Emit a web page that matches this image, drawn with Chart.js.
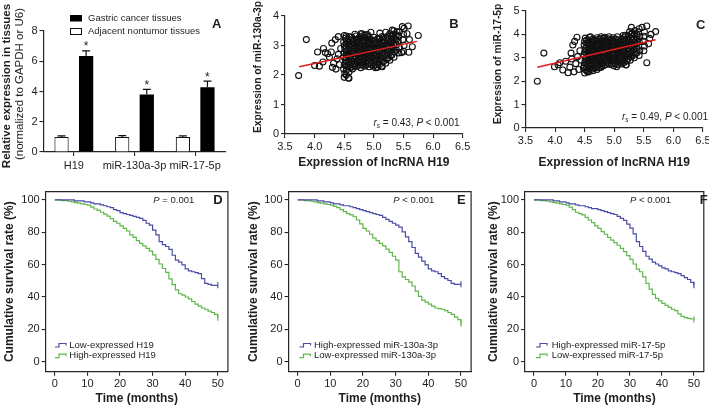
<!DOCTYPE html>
<html><head><meta charset="utf-8">
<script src="https://cdn.jsdelivr.net/npm/chart.js@4/dist/chart.umd.min.js"></script>
<style>
html,body{margin:0;padding:0;background:#fff;width:709px;height:407px;overflow:hidden;}
body{position:relative;}
canvas{position:absolute;}
</style></head><body>
<canvas id="cA" width="240" height="190" style="left:0px;top:0px"></canvas>
<canvas id="cB" width="240" height="190" style="left:240px;top:0px"></canvas>
<canvas id="cC" width="229" height="190" style="left:480px;top:0px"></canvas>
<canvas id="cD" width="240" height="222" style="left:0px;top:185px"></canvas>
<canvas id="cE" width="240" height="222" style="left:240px;top:185px"></canvas>
<canvas id="cF" width="231" height="222" style="left:478px;top:185px"></canvas>
<script>
// ---------------- DATA ----------------
const barCategories = ['H19', 'miR-130a-3p', 'miR-17-5p'];
const cancerMeans = [6.35, 3.8, 4.28];
const cancerErr = [0.33, 0.34, 0.4];
const normalMeans = [1.0, 1.0, 1.0];
const normalErr = [0.07, 0.08, 0.07];
const barSeriesNames = ['Gastric cancer tissues', 'Adjacent nontumor tissues'];
const barTicksY = [0, 2, 4, 6, 8];

const scatterB = [
[3.73,1.98],[3.86,3.2],[4.0,2.32],[4.05,2.78],[4.08,2.3],[4.14,2.44],[4.15,2.9],[4.18,2.76],[4.22,2.72],[4.25,2.6],[4.28,2.78],[4.29,3.08],[4.3,2.26],[4.32,2.4],[4.35,3.2],[4.36,2.2],[4.38,2.55],[4.4,3.3],[4.4,2.7],[4.42,2.35],[4.44,2.9],
[4.5,1.92],[4.51,2.05],[4.49,2.2],[4.5,2.35],[4.52,2.5],[4.49,2.62],[4.5,2.75],[4.51,2.88],[4.5,3.0],[4.49,3.12],[4.52,3.25],[4.5,3.34],
[4.57,1.9],[4.58,2.1],[4.56,2.28],[4.57,2.42],[4.58,2.56],[4.56,2.7],[4.57,2.84],[4.58,2.97],[4.56,3.1],[4.57,3.22],[4.58,3.3],
[4.64,2.2],[4.65,2.35],[4.63,2.48],[4.64,2.6],[4.65,2.74],[4.63,2.88],[4.64,3.0],[4.65,3.14],[4.63,3.28],
[4.71,2.3],[4.72,2.45],[4.7,2.58],[4.71,2.7],[4.72,2.82],[4.7,2.95],[4.71,3.08],[4.72,3.2],[4.7,3.32],
[4.78,2.25],[4.79,2.4],[4.77,2.52],[4.78,2.66],[4.79,2.8],[4.77,2.92],[4.78,3.04],[4.79,3.18],[4.77,3.3],[4.78,3.4],
[4.85,2.3],[4.86,2.44],[4.84,2.58],[4.85,2.72],[4.86,2.86],[4.84,3.0],[4.85,3.12],[4.86,3.26],[4.84,3.36],
[4.92,2.28],[4.93,2.42],[4.91,2.56],[4.92,2.7],[4.93,2.84],[4.91,2.96],[4.92,3.1],[4.93,3.22],[4.91,3.32],
[4.99,2.3],[5.0,2.44],[4.98,2.58],[4.99,2.72],[5.0,2.86],[4.98,3.0],[4.99,3.14],[5.0,3.28],
[5.06,2.26],[5.07,2.4],[5.05,2.54],[5.06,2.68],[5.07,2.82],[5.05,2.96],[5.06,3.1],[5.07,3.24],
[5.13,2.3],[5.14,2.46],[5.12,2.6],[5.13,2.74],[5.14,2.88],[5.12,3.02],[5.13,3.16],[5.14,3.3],
[5.2,2.4],[5.21,2.55],[5.19,2.7],[5.2,2.84],[5.21,2.98],[5.19,3.12],[5.2,3.26],
[5.27,2.5],[5.28,2.66],[5.26,2.8],[5.27,2.95],[5.28,3.1],[5.26,3.25],[5.27,3.4],
[5.34,2.6],[5.35,2.78],[5.33,2.92],[5.34,3.08],[5.35,3.22],[5.33,3.38],[5.34,3.5],
[5.42,2.75],[5.43,2.95],[5.41,3.15],[5.42,3.3],[5.43,3.46],
[5.5,2.8],[5.51,3.0],[5.49,3.2],[5.5,3.38],[5.51,3.58],
[5.48,3.64],[5.58,3.66],[5.75,3.34],[5.65,2.96],[5.59,2.77],[5.47,2.76],[5.39,3.47],[5.31,3.52],[5.14,2.28],[5.03,2.25],[4.58,1.89],[4.8,3.4],[4.89,3.37],[4.53,3.32],[5.56,3.4],[5.6,3.2],[5.2,3.45],[5.1,3.42],[4.95,3.45],[4.68,3.38],
[4.535,2.0],[4.535,2.16],[4.535,2.3],[4.535,2.45],[4.535,2.58],[4.535,2.7],[4.535,2.82],[4.535,2.94],[4.535,3.06],[4.535,3.18],
[4.605,2.25],[4.605,2.38],[4.605,2.52],[4.605,2.64],[4.605,2.78],[4.605,2.92],[4.605,3.04],[4.605,3.18],
[4.675,2.28],[4.675,2.4],[4.675,2.54],[4.675,2.66],[4.675,2.8],[4.675,2.92],[4.675,3.05],[4.675,3.2],
[4.745,2.34],[4.745,2.48],[4.745,2.6],[4.745,2.74],[4.745,2.86],[4.745,2.98],[4.745,3.12],[4.745,3.25],
[4.815,2.32],[4.815,2.46],[4.815,2.6],[4.815,2.74],[4.815,2.88],[4.815,3.0],[4.815,3.14],[4.815,3.28],
[4.885,2.36],[4.885,2.5],[4.885,2.64],[4.885,2.78],[4.885,2.92],[4.885,3.06],[4.885,3.2],
[4.955,2.36],[4.955,2.5],[4.955,2.64],[4.955,2.78],[4.955,2.92],[4.955,3.06],[4.955,3.2],
[5.025,2.34],[5.025,2.48],[5.025,2.62],[5.025,2.76],[5.025,2.9],[5.025,3.04],[5.025,3.18],
[5.095,2.36],[5.095,2.52],[5.095,2.66],[5.095,2.8],[5.095,2.94],[5.095,3.08],[5.095,3.22],
[5.165,2.46],[5.165,2.62],[5.165,2.78],[5.165,2.92],[5.165,3.06],[5.165,3.2],
[5.235,2.56],[5.235,2.72],[5.235,2.88],[5.235,3.02],[5.235,3.18],[5.235,3.32],
[5.305,2.68],[5.305,2.86],[5.305,3.0],[5.305,3.16],[5.305,3.3],
[5.38,2.85],[5.38,3.02],[5.38,3.2],[5.38,3.36]
];
const fitB = [[3.74, 2.28], [5.73, 3.14]];

const scatterC = [
[3.7,2.0],[3.81,3.2],[3.99,2.62],[4.05,2.7],[4.08,2.79],[4.13,2.48],[4.18,2.85],[4.22,2.36],[4.25,2.6],[4.27,3.2],[4.28,2.95],[4.3,3.55],[4.32,2.4],[4.33,3.7],[4.35,2.75],[4.37,3.88],[4.38,3.05],[4.4,2.5],[4.42,3.3],[4.44,2.9],
[4.5,2.35],[4.51,2.5],[4.49,2.65],[4.5,2.8],[4.51,2.95],[4.49,3.1],[4.5,3.25],[4.51,3.4],[4.49,3.55],[4.5,3.7],[4.51,3.84],
[4.57,2.4],[4.58,2.55],[4.56,2.7],[4.57,2.86],[4.58,3.0],[4.56,3.16],[4.57,3.3],[4.58,3.46],[4.56,3.6],[4.57,3.76],[4.58,3.88],
[4.64,2.45],[4.65,2.6],[4.63,2.76],[4.64,2.92],[4.65,3.06],[4.63,3.22],[4.64,3.36],[4.65,3.52],[4.63,3.66],[4.64,3.8],
[4.71,2.5],[4.72,2.66],[4.7,2.82],[4.71,2.96],[4.72,3.12],[4.7,3.28],[4.71,3.42],[4.72,3.56],[4.7,3.72],[4.71,3.86],
[4.78,2.6],[4.79,2.74],[4.77,2.9],[4.78,3.04],[4.79,3.2],[4.77,3.34],[4.78,3.5],[4.79,3.64],[4.77,3.8],[4.78,3.9],
[4.85,2.7],[4.86,2.84],[4.84,3.0],[4.85,3.14],[4.86,3.3],[4.84,3.44],[4.85,3.6],[4.86,3.74],[4.84,3.88],
[4.92,2.72],[4.93,2.88],[4.91,3.02],[4.92,3.18],[4.93,3.32],[4.91,3.48],[4.92,3.62],[4.93,3.76],[4.91,3.9],
[4.99,2.66],[5.0,2.8],[4.98,2.96],[4.99,3.1],[5.0,3.26],[4.98,3.4],[4.99,3.56],[5.0,3.7],[4.98,3.86],
[5.06,2.7],[5.07,2.86],[5.05,3.0],[5.06,3.16],[5.07,3.3],[5.05,3.46],[5.06,3.6],[5.07,3.76],
[5.13,2.74],[5.14,2.9],[5.12,3.06],[5.13,3.2],[5.14,3.36],[5.12,3.5],[5.13,3.66],[5.14,3.8],
[5.2,2.7],[5.21,2.86],[5.19,3.0],[5.2,3.16],[5.21,3.32],[5.19,3.48],[5.2,3.62],[5.21,3.78],[5.19,3.96],
[5.27,2.9],[5.28,3.06],[5.26,3.2],[5.27,3.36],[5.28,3.52],[5.26,3.68],[5.27,3.84],[5.28,4.0],[5.26,4.12],
[5.34,3.0],[5.35,3.16],[5.33,3.34],[5.34,3.5],[5.35,3.66],[5.33,3.82],[5.34,4.0],[5.35,4.16],
[5.42,3.1],[5.43,3.3],[5.41,3.5],[5.42,3.7],[5.43,3.9],[5.41,4.1],[5.42,4.24],
[5.5,3.3],[5.51,3.5],[5.49,3.7],[5.5,3.92],[5.51,4.1],
[5.29,4.3],[5.47,4.3],[5.55,4.36],[5.7,4.12],[5.55,2.79],[5.2,2.69],[5.04,2.62],[5.6,3.83],[5.58,3.6],[5.62,4.0],[5.15,3.95],[5.05,3.9],[4.6,3.9],[4.55,2.4],[4.48,2.55],
[4.535,2.45],[4.535,2.6],[4.535,2.74],[4.535,2.88],[4.535,3.02],[4.535,3.18],[4.535,3.32],[4.535,3.48],[4.535,3.62],[4.535,3.76],
[4.605,2.5],[4.605,2.64],[4.605,2.8],[4.605,2.94],[4.605,3.08],[4.605,3.24],[4.605,3.38],[4.605,3.54],[4.605,3.7],
[4.675,2.56],[4.675,2.72],[4.675,2.86],[4.675,3.0],[4.675,3.16],[4.675,3.32],[4.675,3.46],[4.675,3.62],[4.675,3.76],
[4.745,2.58],[4.745,2.74],[4.745,2.88],[4.745,3.04],[4.745,3.2],[4.745,3.34],[4.745,3.5],[4.745,3.64],[4.745,3.8],
[4.815,2.66],[4.815,2.8],[4.815,2.96],[4.815,3.1],[4.815,3.26],[4.815,3.4],[4.815,3.56],[4.815,3.7],[4.815,3.84],
[4.885,2.78],[4.885,2.92],[4.885,3.08],[4.885,3.22],[4.885,3.38],[4.885,3.52],[4.885,3.68],[4.885,3.82],
[4.955,2.74],[4.955,2.88],[4.955,3.04],[4.955,3.18],[4.955,3.34],[4.955,3.48],[4.955,3.64],[4.955,3.78],
[5.025,2.74],[5.025,2.9],[5.025,3.04],[5.025,3.2],[5.025,3.34],[5.025,3.5],[5.025,3.64],[5.025,3.8],
[5.095,2.8],[5.095,2.96],[5.095,3.1],[5.095,3.26],[5.095,3.4],[5.095,3.56],[5.095,3.72],
[5.165,2.8],[5.165,2.96],[5.165,3.12],[5.165,3.28],[5.165,3.42],[5.165,3.58],[5.165,3.74],[5.165,3.88],
[5.235,2.96],[5.235,3.12],[5.235,3.28],[5.235,3.44],[5.235,3.6],[5.235,3.76],[5.235,3.92],
[5.305,3.08],[5.305,3.24],[5.305,3.42],[5.305,3.58],[5.305,3.74],[5.305,3.9],[5.305,4.06],
[5.38,3.2],[5.38,3.4],[5.38,3.6],[5.38,3.8],[5.38,4.0]
];
const fitC = [[3.7, 2.6], [5.7, 3.77]];

const scatterTicksX = [3.5, 4.0, 4.5, 5.0, 5.5, 6.0, 6.5];

const months = [0,1,2,3,4,5,6,7,8,9,10,11,12,13,14,15,16,17,18,19,20,21,22,23,24,25,26,27,28,29,30,31,32,33,34,35,36,37,38,39,40,41,42,43,44,45,46,47,48,49,50];
const survD_low = [100,100,100,100,100,100,99.4,99.4,99.4,98.8,98.8,98.2,97.6,97.6,97,96.4,95.8,95.2,94,93.4,92.2,91.6,91,90.4,89.8,89.2,88.6,87.4,85.6,84.4,81.4,78.4,74.2,72.4,71.2,69.4,65.8,62.8,61.6,59.8,57.4,56.2,55.6,55,54.4,51.4,48.4,47.8,47.2,47.2,47.2];
const survD_high = [100,100,99.6,99.6,99.2,98.8,98.4,98,97.6,97.2,96.8,95.6,94.4,93.6,92.4,91.2,90,88.4,86.8,85.6,84,82.4,80.8,78.4,76.8,74.8,73.2,71.6,70,68.4,66,63.2,60.4,57.6,55.2,51.2,47.6,44.4,42,41.2,40,38.8,37.2,35.6,34.4,33.2,32.4,31.2,30.4,29.2,27.2];
const survE_high = [100,100,100,100,100,100,99.4,99.4,98.8,98.8,98.2,97.6,97.6,97,96.4,96.4,95.8,95.2,94.6,94,93.4,92.8,92.2,91.6,91,90.4,89.2,88,86.8,85.6,84.4,83.2,80.2,77.2,74.2,70.6,67,64.6,62.2,59.8,57.4,56.2,55.6,54.4,52.6,51.4,50.2,48.4,47.8,47.8,47.8];
const survE_low = [100,100,99.6,99.6,99.2,98.8,98.4,98,97.6,97.2,96.8,96,95.2,94,92.8,91.6,90.8,89.6,87.6,85.2,82.4,80.8,78.8,76.4,74.8,73.2,71.6,69.6,67.6,65.2,62.8,55.6,52.4,50.8,49.2,46.8,43.6,40.4,38,36.8,35.6,34.4,33.2,32.8,32.4,31.6,30.4,29.2,27.6,26,23.6];
const survF_high = [100,100,100,100,100,100,99.4,99.4,98.8,98.8,98.2,97.6,97.6,97,96.4,96.4,95.8,95.2,94.6,94.6,94,93.4,92.8,92.2,91.6,91,89.8,88.6,87.4,85,82.6,79,74.2,71.2,68.2,65.2,63.4,61.6,60.4,59.2,58,57.4,56.2,55.6,55,54.4,53.2,52,50.8,49,47.2];
const survF_low = [100,100,99.6,99.6,99.2,98.8,98.4,98,97.6,97.2,96.8,95.6,94,92.4,91.6,90.8,89.2,87.6,86,84,82.4,80.4,78.8,76.8,75.2,73.6,72,70,68,65.6,63.2,60.4,57.2,55.6,52.4,48.4,44.8,41.6,39.2,37.6,36,34.8,33.6,32.4,31.6,29.6,28,27.2,26.8,26.4,26];
const survTicksX = [0, 10, 20, 30, 40, 50];
const survTicksY = [0, 20, 40, 60, 80, 100];
const legendD = ['Low-expressed H19', 'High-expressed H19'];
const legendE = ['High-expressed miR-130a-3p', 'Low-expressed miR-130a-3p'];
const legendF = ['High-expressed miR-17-5p', 'Low-expressed miR-17-5p'];

// ---------------- STYLE ----------------
const FONT = "'Liberation Sans', Arial, Helvetica, sans-serif";
const AX = '#262626';
const TXT = '#1e1e1e';
const BLUE = '#4a4ca6';
const GREEN = '#5fb84a';
const RED = '#e01e1e';

function zeroPad(s) { s.paddingLeft = 0; s.paddingRight = 0; s.paddingTop = 0; s.paddingBottom = 0; }
function gridOpts() { return { display: true, drawOnChartArea: false, drawTicks: true, tickLength: 4, color: AX, lineWidth: 1.1 }; }
function tickFont() { return { family: FONT, size: 11 }; }

function fillText(ctx, s, x, y, font, align, baseline, color) {
  ctx.save(); ctx.font = font; ctx.textAlign = align || 'left'; ctx.textBaseline = baseline || 'middle';
  ctx.fillStyle = color || TXT; ctx.fillText(s, x, y); ctx.restore();
}
function vText(ctx, s, cx, cy, font) {
  ctx.save(); ctx.translate(cx, cy); ctx.rotate(-Math.PI / 2);
  ctx.font = font; ctx.textAlign = 'center'; ctx.textBaseline = 'middle'; ctx.fillStyle = TXT;
  ctx.fillText(s, 0, 0); ctx.restore();
}
// parts: [{t, it, sub}]
function richText(ctx, parts, x, y, size, alignRight) {
  ctx.save(); ctx.textBaseline = 'middle'; ctx.fillStyle = TXT; ctx.textAlign = 'left';
  const fontOf = p => (p.it ? 'italic ' : '') + (p.sub ? (size * 0.65) : size) + 'px ' + FONT;
  let w = 0;
  parts.forEach(p => { ctx.font = fontOf(p); w += ctx.measureText(p.t).width; });
  let cx = alignRight ? x - w : x;
  parts.forEach(p => { ctx.font = fontOf(p); ctx.fillText(p.t, cx, p.sub ? y + size * 0.3 : y); cx += ctx.measureText(p.t).width; });
  ctx.restore();
}
const common = { responsive: false, animation: false, events: [], devicePixelRatio: 1 };

// ---------------- PANEL A ----------------
const plugA = {
  id: 'plugA',
  afterDatasetsDraw(chart) {
    const ctx = chart.ctx, y = chart.scales.y;
    const errs = [normalErr, cancerErr], means = [normalMeans, cancerMeans];
    ctx.save(); ctx.strokeStyle = '#111'; ctx.lineWidth = 1.2;
    for (let d = 0; d < 2; d++) {
      const meta = chart.getDatasetMeta(d);
      meta.data.forEach((bar, j) => {
        const top = y.getPixelForValue(means[d][j] + errs[d][j]);
        const base = y.getPixelForValue(means[d][j]);
        const hw = bar.width * 0.28;
        ctx.beginPath(); ctx.moveTo(bar.x, base); ctx.lineTo(bar.x, top);
        ctx.moveTo(bar.x - hw, top); ctx.lineTo(bar.x + hw, top); ctx.stroke();
        if (d === 1) fillText(ctx, '*', bar.x, top - 0.5, '12px ' + FONT, 'center', 'alphabetic');
      });
    }
    ctx.restore();
  },
  afterDraw(chart) {
    const ctx = chart.ctx;
    vText(ctx, 'Relative expression in tissues', 6.5, 86, 'bold 11.5px ' + FONT);
    vText(ctx, '(normalized to GAPDH or U6)', 19.5, 84, '11.5px ' + FONT);
    ctx.save();
    ctx.fillStyle = '#000'; ctx.fillRect(70, 15, 12, 6.5);
    ctx.strokeStyle = '#111'; ctx.lineWidth = 1; ctx.strokeRect(70.5, 28.5, 11, 6);
    ctx.restore();
    fillText(ctx, barSeriesNames[0], 88, 18.5, '9.5px ' + FONT);
    fillText(ctx, barSeriesNames[1], 88, 31.5, '9.5px ' + FONT);
    fillText(ctx, 'A', 216.7, 24.5, 'bold 13px ' + FONT, 'center', 'middle');
  }
};
new Chart(document.getElementById('cA'), {
  type: 'bar',
  data: {
    labels: barCategories,
    datasets: [
      { label: barSeriesNames[1], data: normalMeans, backgroundColor: '#fff', borderColor: '#111', borderWidth: 1.1, categoryPercentage: 0.81, barPercentage: 0.58 },
      { label: barSeriesNames[0], data: cancerMeans, backgroundColor: '#000', borderColor: '#000', borderWidth: 0, categoryPercentage: 0.81, barPercentage: 0.58 }
    ]
  },
  options: Object.assign({}, common, {
    layout: { padding: { left: 0, top: 31, right: 14.5, bottom: 0 } },
    plugins: { legend: { display: false }, tooltip: { enabled: false } },
    scales: {
      x: { grid: Object.assign(gridOpts(), { offset: false }), border: { display: true, color: AX, width: 1.2 },
           ticks: { font: tickFont(), color: TXT, padding: 3, maxRotation: 0, autoSkip: false },
           afterFit: s => { s.height = 38; zeroPad(s); } },
      y: { min: 0, max: 8, afterBuildTicks: s => { s.ticks = barTicksY.map(v => ({ value: v })); },
           grid: gridOpts(), border: { display: true, color: AX, width: 1.2 },
           ticks: { font: tickFont(), color: TXT, padding: 2 },
           afterFit: s => { s.width = 43.5; zeroPad(s); } }
    }
  }),
  plugins: [plugA]
});

// ---------------- PANELS B, C ----------------
function scatterChart(id, pts, fit, o) {
  const plug = {
    id: 'plug' + id,
    afterDraw(chart) {
      const ctx = chart.ctx;
      vText(ctx, o.ytitle, o.ytx, o.yty, 'bold 10.3px ' + FONT);
      fillText(ctx, o.letter, o.lx, o.ly, 'bold 13px ' + FONT, 'center', 'middle');
      richText(ctx, [{ t: 'r', it: true }, { t: 's', it: true, sub: true }, { t: ' = ' + o.r + ', ' }, { t: 'P', it: true }, { t: ' < 0.001' }], o.rx, o.ry, 10, true);
    }
  };
  new Chart(document.getElementById(id), {
    type: 'scatter',
    data: {
      datasets: [
        { data: fit.map(p => ({ x: p[0], y: p[1] })), showLine: true, borderColor: RED, borderWidth: 1.5, pointRadius: 0, fill: false },
        { data: pts.map(p => ({ x: p[0], y: p[1] })), pointRadius: 3, pointBorderWidth: 1.1, borderColor: '#111', backgroundColor: 'rgba(0,0,0,0)', pointBackgroundColor: 'rgba(0,0,0,0)', pointBorderColor: '#111' }
      ]
    },
    options: Object.assign({}, common, {
      layout: { padding: { left: 0, top: o.top, right: o.right, bottom: 0 } },
      plugins: { legend: { display: false }, tooltip: { enabled: false } },
      scales: {
        x: { type: 'linear', min: 3.5, max: 6.5, afterBuildTicks: s => { s.ticks = scatterTicksX.map(v => ({ value: v })); },
             grid: gridOpts(), border: { display: true, color: AX, width: 1.2 },
             ticks: { font: tickFont(), color: TXT, padding: 2, maxRotation: 0, autoSkip: false, callback: v => Number(v).toFixed(1) },
             title: { display: true, text: 'Expression of lncRNA H19', font: { family: FONT, size: 12, weight: 'bold' }, color: TXT, padding: { top: 0, bottom: o.xtb } },
             afterFit: s => { s.height = o.xh; zeroPad(s); } },
        y: { type: 'linear', min: 0, max: o.ymax, afterBuildTicks: s => { s.ticks = o.yticks.map(v => ({ value: v })); },
             grid: gridOpts(), border: { display: true, color: AX, width: 1.2 },
             ticks: { font: tickFont(), color: TXT, padding: 2 },
             afterFit: s => { s.width = o.yw; zeroPad(s); } }
      }
    }),
    plugins: [plug]
  });
}
scatterChart('cB', scatterB, fitB, { top: 16, right: 17.3, xh: 56, yw: 45, xtb: 20.3, ymax: 4, yticks: [0, 1, 2, 3, 4],
  ytitle: 'Expression of miR-130a-3p', ytx: 18.3, yty: 67, letter: 'B', lx: 214, ly: 24.5, r: '0.43', rx: 219.5, ry: 123.5 });
scatterChart('cC', scatterC, fitC, { top: 11, right: 6, xh: 62, yw: 45.5, xtb: 19.8, ymax: 5, yticks: [0, 1, 2, 3, 4, 5],
  ytitle: 'Expression of miR-17-5p', ytx: 18.3, yty: 64, letter: 'C', lx: 220.8, ly: 25, r: '0.49', rx: 228, ry: 117.5 });

// ---------------- PANELS D, E, F ----------------
function survChart(id, offX, curves, labels, o) {
  const plug = {
    id: 'plug' + id,
    afterDraw(chart) {
      const ctx = chart.ctx, a = chart.chartArea;
      ctx.save(); ctx.strokeStyle = AX; ctx.lineWidth = 1.2;
      ctx.beginPath(); ctx.moveTo(a.left, a.top); ctx.lineTo(a.right, a.top); ctx.lineTo(a.right, a.bottom); ctx.stroke();
      ctx.restore();
      richText(ctx, [{ t: 'P', it: true }, { t: o.ptext }], o.px - offX, 15.7, 9.5, false);
      fillText(ctx, o.letter, o.lx - offX, 15.5, 'bold 13px ' + FONT, 'center', 'middle');
      const rows = [160, 170.7];
      [BLUE, GREEN].forEach((c, i) => {
        const sx = o.sx - offX, sy = rows[i];
        ctx.save(); ctx.strokeStyle = c; ctx.lineWidth = 1.2;
        ctx.beginPath(); ctx.moveTo(sx, sy + 2); ctx.lineTo(sx + 4, sy + 2); ctx.lineTo(sx + 4, sy - 1.5); ctx.lineTo(sx + 11, sy - 1.5); ctx.lineTo(sx + 11, sy + 0.5); ctx.stroke();
        ctx.restore();
        fillText(ctx, labels[i], o.tx - offX, sy, '9.5px ' + FONT);
      });
    }
  };
  const last = months.length - 1;
  new Chart(document.getElementById(id), {
    type: 'line',
    data: {
      datasets: curves.map((arr, i) => ({
        label: labels[i],
        data: months.map((m, k) => ({ x: m, y: arr[k] })),
        borderColor: i === 0 ? BLUE : GREEN, borderWidth: 1.2, stepped: true, fill: false, tension: 0,
        pointStyle: 'line', pointRotation: 90, pointBorderColor: i === 0 ? BLUE : GREEN, pointBorderWidth: 1.2,
        pointRadius: c => (c.dataIndex === last ? 3 : 0)
      }))
    },
    options: Object.assign({}, common, {
      layout: { padding: { left: 0, top: 6.7, right: o.right, bottom: 0 } },
      plugins: { legend: { display: false }, tooltip: { enabled: false } },
      scales: {
        x: { type: 'linear', min: -2.8, max: 53.1, afterBuildTicks: s => { s.ticks = survTicksX.map(v => ({ value: v })); },
             grid: gridOpts(), border: { display: true, color: AX, width: 1.2 },
             ticks: { font: tickFont(), color: TXT, padding: 2, maxRotation: 0, autoSkip: false },
             title: { display: true, text: 'Time (months)', font: { family: FONT, size: 12, weight: 'bold' }, color: TXT, padding: { top: 0, bottom: 0.8 } },
             afterFit: s => { s.height = 35.3; zeroPad(s); } },
        y: { type: 'linear', min: -6.2, max: 105.1, afterBuildTicks: s => { s.ticks = survTicksY.map(v => ({ value: v })); },
             grid: gridOpts(), border: { display: true, color: AX, width: 1.2 },
             ticks: { font: tickFont(), color: TXT, padding: 2 },
             title: { display: true, text: 'Cumulative survival rate (%)', font: { family: FONT, size: 12, weight: 'bold' }, color: TXT, padding: { top: o.ytp, bottom: 0 } },
             afterFit: s => { s.width = o.yw; zeroPad(s); } }
      }
    }),
    plugins: [plug]
  });
}
survChart('cD', 0, [survD_low, survD_high], legendD, { right: 12.1, yw: 45.7, ytp: 2.8, ptext: ' = 0.001', px: 153.3, letter: 'D', lx: 218, sx: 55, tx: 69.3 });
survChart('cE', 240, [survE_high, survE_low], legendE, { right: 8.9, yw: 48.5, ytp: 6.5, ptext: ' < 0.001', px: 393.3, letter: 'E', lx: 461.3, sx: 299.5, tx: 314 });
survChart('cF', 478, [survF_high, survF_low], legendF, { right: 1.4, yw: 47, ytp: 8.6, ptext: ' < 0.001', px: 630, letter: 'F', lx: 703.7, sx: 536, tx: 551.7 });
</script>
</body></html>
